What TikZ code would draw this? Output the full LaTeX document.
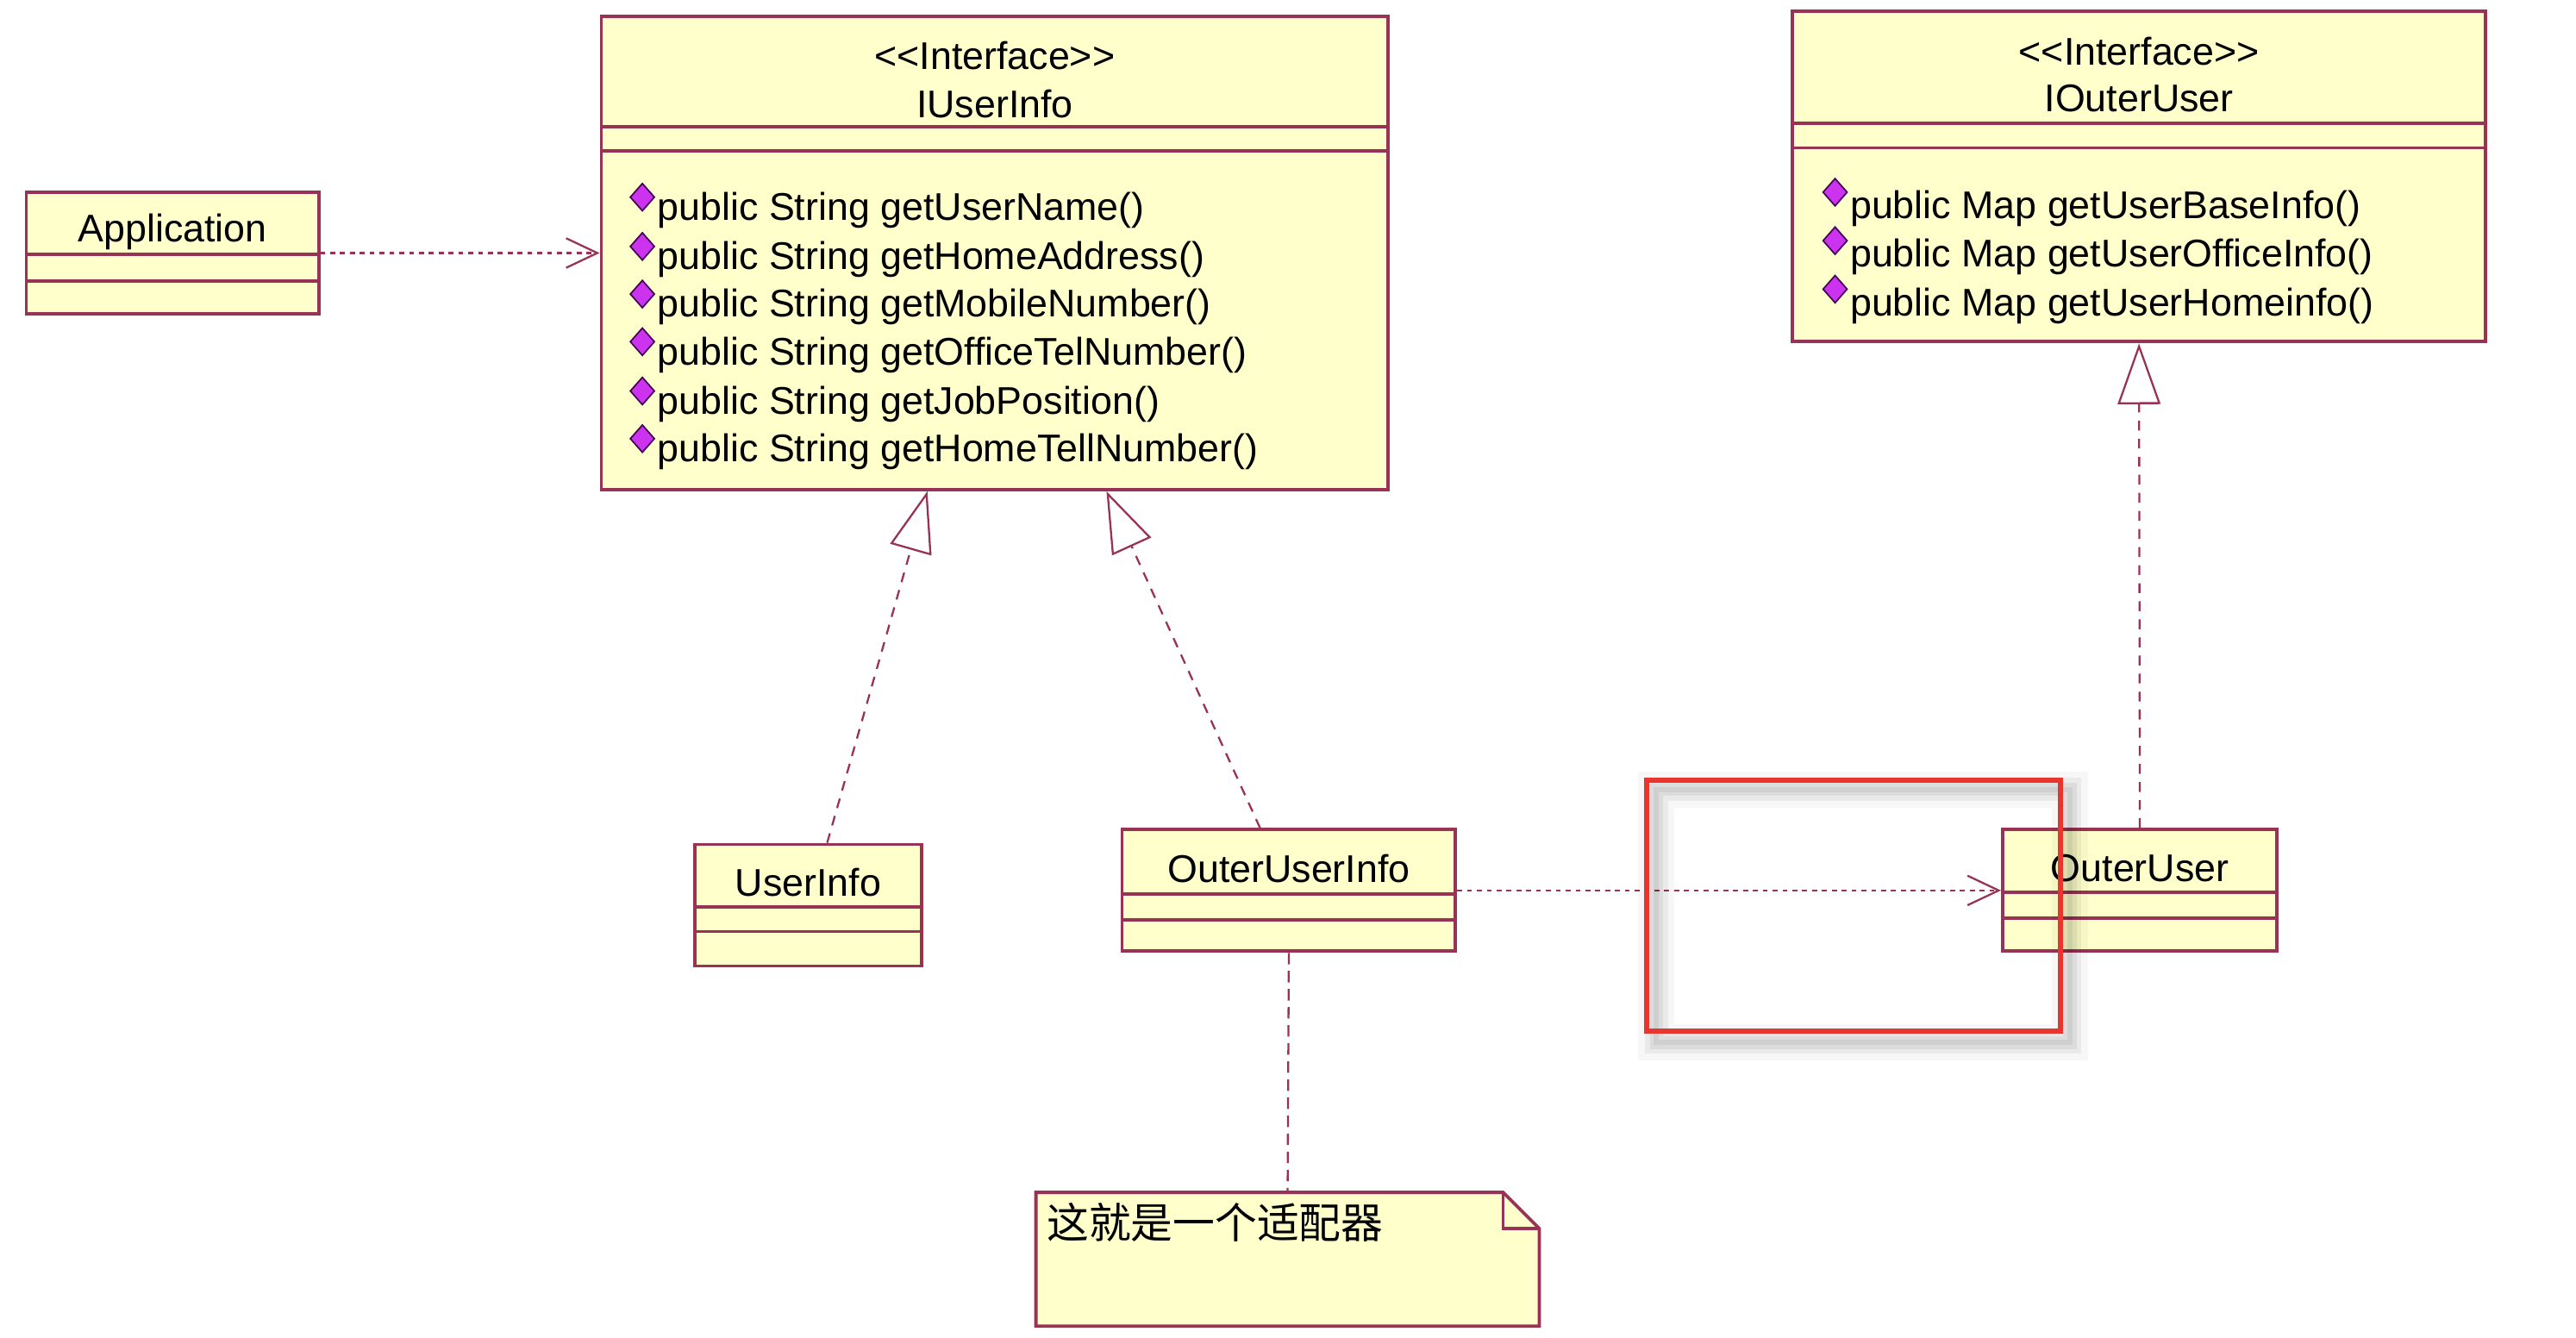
\documentclass[tikz,border=0pt]{standalone}
\usepackage{fontspec}
\setmainfont{Liberation Sans}
\newfontfamily\cjkfont{Noto Sans CJK SC}
\usepackage{xcolor}
\definecolor{classbg}{HTML}{FFFFCC}
\definecolor{classbd}{HTML}{993355}
\definecolor{opmark}{HTML}{CC33EE}
\definecolor{opedge}{HTML}{440055}
\definecolor{markred}{HTML}{E8352E}
\usetikzlibrary{arrows.meta, positioning, shapes.geometric}

\begin{document}
\begin{tikzpicture}[
        x=1pt, y=-1pt,
        font=\fontsize{23.5}{28}\selectfont,
        class_box/.style={
            rectangle,
            draw=classbd,
            fill=classbg,
            line width=2pt,
            inner sep=0pt,
            minimum height=74pt
        },
        sep_line/.style={draw=classbd, line width=2pt},
        name_text/.style={inner sep=0pt, anchor=center},
        op_text/.style={inner sep=0pt, anchor=west},
        op_mark/.style={
            diamond,
            draw=opedge,
            fill=opmark,
            line width=0.9pt,
            inner sep=0pt,
            minimum width=15pt,
            minimum height=17pt
        },
        realize/.style={
            draw=classbd,
            line width=1.2pt,
            dash pattern=on 6pt off 5pt,
            -{Triangle[open, length=37pt, width=26pt]}
        },
        depend/.style={
            draw=classbd,
            line width=1.2pt,
            dash pattern=on 3pt off 3pt,
            -{Straight Barb[length=19pt, width=18pt]}
        },
        note_link/.style={draw=classbd, line width=1.2pt, dash pattern=on 7pt off 4pt},
        note_area/.style={rectangle, inner sep=0pt, minimum width=306pt, minimum height=81pt},
        highlight/.style={
            rectangle,
            draw=markred,
            line width=3.3pt,
            inner sep=0pt,
            minimum width=252pt,
            minimum height=153pt
        },
        mark_shadow/.style={draw=black, line cap=round}
    ]
    \useasboundingbox (0,0) rectangle (1568,814);

    % Client (Left)
    \node[class_box, minimum width=178pt] (app) at (105,154) {};
    \node[name_text] (app-name) at (105,141) {Application};
    \draw[sep_line] ([yshift=-39pt]app.north west) -- ([yshift=-39pt]app.north east);
    \draw[sep_line] ([yshift=-55pt]app.north west) -- ([yshift=-55pt]app.north east);

    % Target interface
    \node[class_box, minimum width=479pt, minimum height=288pt] (iuser) at (605.5,154) {};
    \node[name_text] (iuser-stereo) at (605.5,34) {<{}<Interface>{}>};
    \node[name_text] (iuser-name) at (605.5,63.5) {IUserInfo};
    \draw[sep_line] ([yshift=-68pt]iuser.north west) -- ([yshift=-68pt]iuser.north east);
    \draw[sep_line] ([yshift=-83pt]iuser.north west) -- ([yshift=-83pt]iuser.north east);
    \node[op_mark] (iuser-d1) at (391,120) {};
    \node[op_text] (iuser-op1) at (400,128) {public String getUserName()};
    \node[op_mark] (iuser-d2) at (391,150) {};
    \node[op_text] (iuser-op2) at (400,158) {public String getHomeAddress()};
    \node[op_mark] (iuser-d3) at (391,179) {};
    \node[op_text] (iuser-op3) at (400,187) {public String getMobileNumber()};
    \node[op_mark] (iuser-d4) at (391,208) {};
    \node[op_text] (iuser-op4) at (400,216) {public String getOfficeTelNumber()};
    \node[op_mark] (iuser-d5) at (391,238) {};
    \node[op_text] (iuser-op5) at (400,246) {public String getJobPosition()};
    \node[op_mark] (iuser-d6) at (391,267) {};
    \node[op_text] (iuser-op6) at (400,275) {public String getHomeTellNumber()};

    % Adaptee interface (Right)
    \node[class_box, minimum width=422pt, minimum height=201pt] (iouter) at (1302,107.5) {};
    \node[name_text] (iouter-stereo) at (1302,31) {<{}<Interface>{}>};
    \node[name_text] (iouter-name) at (1302,60) {IOuterUser};
    \draw[sep_line] ([yshift=-69pt]iouter.north west) -- ([yshift=-69pt]iouter.north east);
    \draw[sep_line] ([yshift=-84pt]iouter.north west) -- ([yshift=-84pt]iouter.north east);
    \node[op_mark] (iouter-d1) at (1117,117) {};
    \node[op_text] (iouter-op1) at (1126,127) {public Map getUserBaseInfo()};
    \node[op_mark] (iouter-d2) at (1117,146.5) {};
    \node[op_text] (iouter-op2) at (1126,156.5) {public Map getUserOfficeInfo()};
    \node[op_mark] (iouter-d3) at (1117,176) {};
    \node[op_text] (iouter-op3) at (1126,186) {public Map getUserHomeinfo()};

    % Implementing classes
    \node[class_box, minimum width=138pt] (uinfo) at (492,551) {};
    \node[name_text] (uinfo-name) at (492,537) {UserInfo};
    \draw[sep_line] ([yshift=-39pt]uinfo.north west) -- ([yshift=-39pt]uinfo.north east);
    \draw[sep_line] ([yshift=-54pt]uinfo.north west) -- ([yshift=-54pt]uinfo.north east);

    \node[class_box, minimum width=203pt] (ouinfo) at (784.5,542) {};
    \node[name_text] (ouinfo-name) at (784.5,528.5) {OuterUserInfo};
    \draw[sep_line] ([yshift=-40pt]ouinfo.north west) -- ([yshift=-40pt]ouinfo.north east);
    \draw[sep_line] ([yshift=-56pt]ouinfo.north west) -- ([yshift=-56pt]ouinfo.north east);

    \node[class_box, minimum width=167pt] (ouser) at (1302.5,542) {};
    \node[name_text] (ouser-name) at (1302.5,528.5) {OuterUser};
    \draw[sep_line] ([yshift=-39pt]ouser.north west) -- ([yshift=-39pt]ouser.north east);
    \draw[sep_line] ([yshift=-55pt]ouser.north west) -- ([yshift=-55pt]ouser.north east);

    % Note
    \node[note_area] (note) at (783.75,766.5) {};
    \filldraw[fill=classbg, draw=classbd, line width=2pt] (note.north west) -- ([xshift=-22pt]note.north east) -- ([yshift=-22pt]note.north east) -- (note.south east) -- (note.south west) -- cycle;
    \draw[sep_line] ([xshift=-22pt]note.north east) |- ([yshift=-22pt]note.north east);
    \node[op_text, font=\cjkfont\fontsize{25.6}{30}\selectfont] (note-text) at (637,744) {这就是一个适配器};

    % Relations
    \draw[depend] (app.east) -- (app.east -| iuser.west);
    \draw[realize] ([xshift=11.5pt]uinfo.north) -- ([xshift=-41pt]iuser.south);
    \draw[realize] ([xshift=-17.5pt]ouinfo.north) -- ([xshift=68pt]iuser.south);
    \draw[realize] (ouser.north) -- (iouter.south);
    \draw[depend] (ouinfo.east) -- (ouser.west);
    \draw[note_link] (ouinfo.south) -- (note.north);

    % Highlight frame
    \draw[mark_shadow, opacity=0.03, line width=22pt] (1008.2,480.5) rectangle (1260,634.5);
    \draw[mark_shadow, opacity=0.05, line width=14pt] (1008.2,480.5) rectangle (1260,634.5);
    \draw[mark_shadow, opacity=0.06, line width=8pt] (1008.2,480.5) rectangle (1260,634.5);
    \draw[mark_shadow, opacity=0.06, line width=3pt] (1008.2,480.5) rectangle (1260,634.5);
    \node[highlight] (mark) at (1128.2,551.25) {};

\end{tikzpicture}
\end{document}
